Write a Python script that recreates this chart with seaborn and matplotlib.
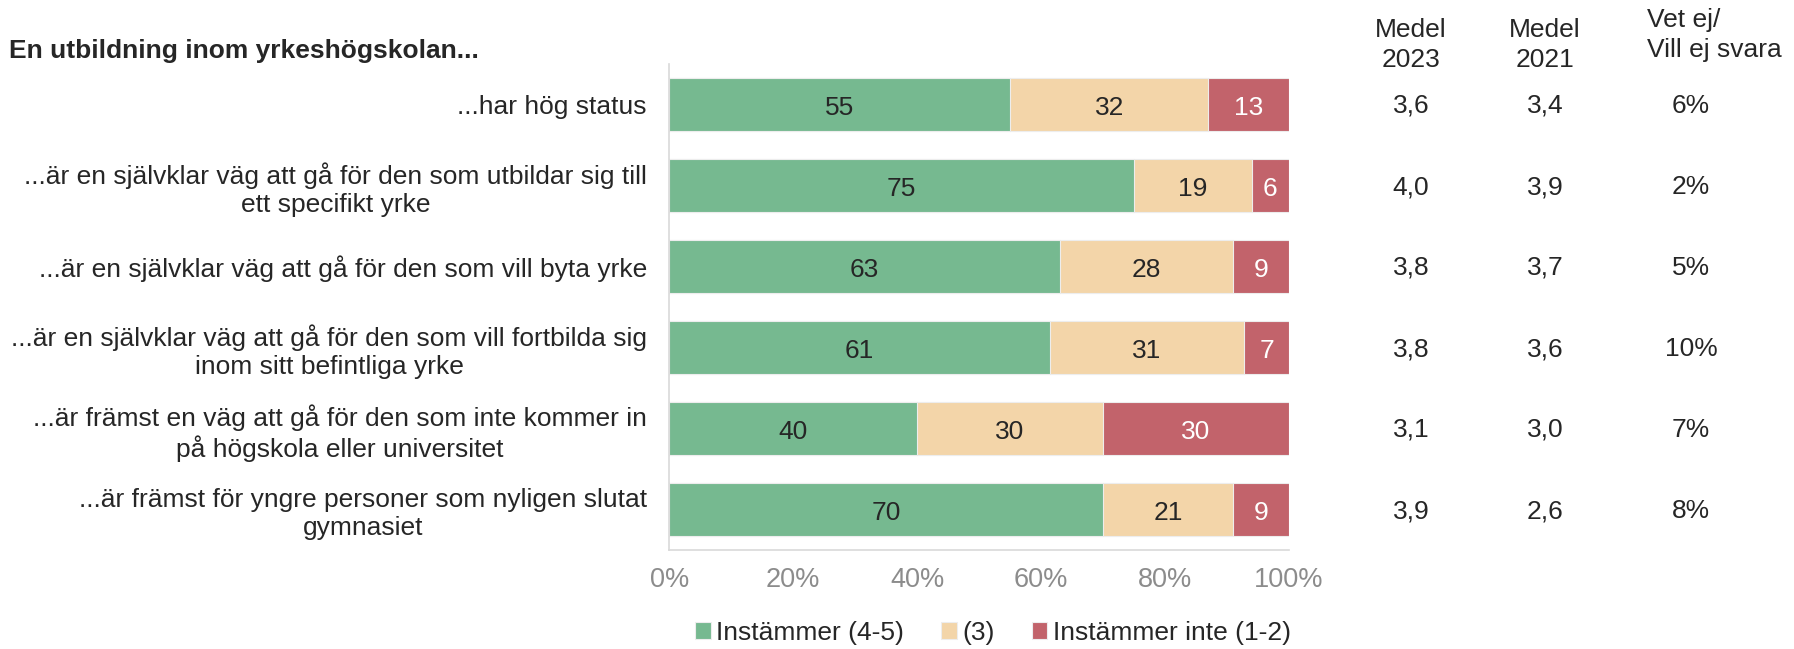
import pandas as pd
import seaborn as sns
import matplotlib.pyplot as plt

statements = [
    "...har hög status",
    "...är en självklar väg att gå för den som utbildar sig till\nett specifikt yrke",
    "...är en självklar väg att gå för den som vill byta yrke",
    "...är en självklar väg att gå för den som vill fortbilda sig\ninom sitt befintliga yrke",
    "...är främst en väg att gå för den som inte kommer in\npå högskola eller universitet",
    "...är främst för yngre personer som nyligen slutat\ngymnasiet",
]
agree = [55, 75, 63, 61.4, 40, 70]
neutral = [32, 19, 28, 31.4, 30, 21]
disagree = [13, 6, 9, 7.2, 30, 9]
medel_2023 = ["3,6", "4,0", "3,8", "3,8", "3,1", "3,9"]
medel_2021 = ["3,4", "3,9", "3,7", "3,6", "3,0", "2,6"]
vet_ej = ["6%", "2%", "5%", "10%", "7%", "8%"]
series_names = ["Instämmer (4-5)", "(3)", "Instämmer inte (1-2)"]
colors = ["#76B990", "#F3D5A9", "#C2636B"]

df = pd.DataFrame({"stmt": statements, "a": agree, "n": neutral, "d": disagree})
df["c1"] = df["a"]
df["c2"] = df["a"] + df["n"]
df["c3"] = df["a"] + df["n"] + df["d"]

sns.set_style("white")
plt.rcParams["font.family"] = ["Liberation Sans", "DejaVu Sans"]
FS = 19
TXT = "#262626"
fig = plt.figure(figsize=(17.94, 6.49), dpi=100)
ax = fig.add_axes([0.373, 1 - 550 / 649, 0.3455, 486 / 649])

# stacked bars: draw cumulative totals from the back to the front
for col, c, name in zip(["c3", "c2", "c1"], colors[::-1], series_names[::-1]):
    sns.barplot(data=df, x=col, y="stmt", orient="h", color=c, saturation=1, width=0.65,
                edgecolor="#EDEDED", linewidth=0.8, label=name, ax=ax)

row_y = lambda i: 1 - (106 + 81 * i) / 649
for i in range(len(statements)):
    segs = [(0, agree[i]), (agree[i], neutral[i]), (agree[i] + neutral[i], disagree[i])]
    for j, (start, w) in enumerate(segs):
        ax.text(start + w / 2, i + 0.04, f"{w:.0f}", ha="center", va="center", fontsize=FS,
                color="white" if j == 2 else TXT)
    fig.text(1411 / 1794, row_y(i), medel_2023[i], ha="center", va="center", fontsize=FS, color=TXT)
    fig.text(1545 / 1794, row_y(i), medel_2021[i], ha="center", va="center", fontsize=FS, color=TXT)
    fig.text(1691 / 1794, row_y(i), vet_ej[i], ha="center", va="center", fontsize=FS, color=TXT)

fig.text(1411 / 1794, 1 - 45 / 649, "Medel\n2023", ha="center", va="center", fontsize=FS, color=TXT, linespacing=1.3)
fig.text(1545 / 1794, 1 - 45 / 649, "Medel\n2021", ha="center", va="center", fontsize=FS, color=TXT, linespacing=1.3)
fig.text(1647 / 1794, 1 - 35 / 649, "Vet ej/\nVill ej svara", ha="left", va="center", fontsize=FS, color=TXT, linespacing=1.3)
fig.text(9 / 1794, 1 - 51 / 649, "En utbildning inom yrkeshögskolan...", ha="left", va="center",
         fontsize=FS, fontweight="bold", color=TXT)

ax.set_xlim(0, 100)
ax.set_ylim(5.5, -0.5)
ax.set_xticks(range(0, 101, 20))
ax.set_xticklabels([f"{t}%" for t in range(0, 101, 20)])
ax.set_xlabel("")
ax.set_ylabel("")
ax.tick_params(axis="x", labelsize=19.5, labelcolor="#8C8C8C", length=0, pad=12)
ax.tick_params(axis="y", labelsize=FS, labelcolor=TXT, length=0, pad=16)
for lab in ax.get_yticklabels():
    lab.set_multialignment("center")
    lab.set_y(lab.get_position()[1])

for s in ["top", "right"]:
    ax.spines[s].set_visible(False)
for s in ["left", "bottom"]:
    ax.spines[s].set_color("#D9D9D9")
    ax.spines[s].set_linewidth(1.2)

handles, labels = ax.get_legend_handles_labels()
order = [labels.index(n) for n in series_names]
ax.legend([handles[k] for k in order], series_names, loc="center", bbox_to_anchor=(993 / 1794, 1 - 633 / 649),
          bbox_transform=fig.transFigure, ncol=3, frameon=False, fontsize=FS, handlelength=0.6,
          handleheight=0.6, handletextpad=0.2, columnspacing=1.4)

fig.savefig("out.png", dpi=100)
